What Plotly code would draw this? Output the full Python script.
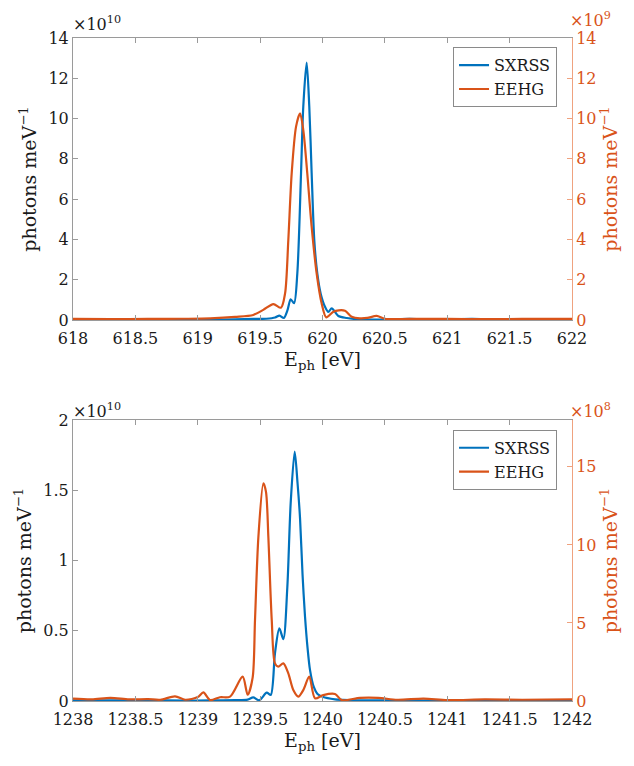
import plotly.graph_objects as go

# ---------------- data ----------------
# Top panel (around 620 eV); SXRSS in units of 1e10, EEHG in units of 1e9
top_sxrss_E = [618.0, 618.3, 618.6, 618.9, 619.1, 619.3, 619.45, 619.55, 619.62, 619.655,
               619.69, 619.72, 619.745, 619.772, 619.798, 619.828, 619.846, 619.873, 619.894,
               619.913, 619.934, 619.958, 619.985, 620.02, 620.047, 620.074, 620.127, 620.194,
               620.3, 620.5, 620.7, 620.8, 621.0, 621.2, 621.4, 621.6, 621.8, 622.0]
top_sxrss_v = [0.01, 0.02, 0.01, 0.03, 0.02, 0.03, 0.05, 0.06, 0.12, 0.22,
               0.1, 0.5, 1.03, 0.83, 2.3, 7.3, 10.6, 12.78, 10.6,
               7.3, 3.97, 2.32, 1.32, 0.66, 0.4, 0.58, 0.2, 0.1,
               0.03, 0.02, 0.06, 0.02, 0.03, 0.05, 0.02, 0.03, 0.02, 0.02]

top_eehg_E = [618.0, 618.3, 618.6, 618.9, 619.1, 619.3, 619.445, 619.525, 619.606, 619.667,
              619.7, 619.726, 619.753, 619.788, 619.82, 619.846, 619.878, 619.913, 619.953,
              619.993, 620.03, 620.087, 620.13, 620.18, 620.234, 620.3, 620.36, 620.434,
              620.5, 620.7, 621.0, 621.3, 621.6, 622.0]
top_eehg_v = [0.05, 0.04, 0.05, 0.06, 0.08, 0.15, 0.25, 0.5, 0.79, 0.61,
              1.32, 3.97, 7.28, 9.6, 10.26, 9.43, 7.28, 4.63, 2.32,
              0.83, 0.13, 0.41, 0.48, 0.46, 0.16, 0.08, 0.1, 0.2,
              0.06, 0.05, 0.05, 0.04, 0.05, 0.05]

# Bottom panel (around 1240 eV); SXRSS in units of 1e10, EEHG in units of 1e8
bot_sxrss_E = [1238.0, 1238.3, 1238.6, 1238.9, 1239.1, 1239.3, 1239.4, 1239.445, 1239.493,
               1239.553, 1239.585, 1239.619, 1239.654, 1239.686, 1239.718, 1239.745, 1239.777,
               1239.8, 1239.82, 1239.84, 1239.86, 1239.88, 1239.9, 1239.93, 1239.96, 1240.0,
               1240.1, 1240.3, 1240.6, 1241.0, 1241.5, 1241.7, 1242.0]
bot_sxrss_v = [0.005, 0.004, 0.005, 0.003, 0.004, 0.006, 0.01, 0.026, 0.005,
               0.059, 0.043, 0.34, 0.517, 0.44, 0.81, 1.41, 1.775,
               1.55, 1.3, 0.9, 0.6, 0.38, 0.22, 0.1, 0.05, 0.03,
               0.012, 0.005, 0.004, 0.003, 0.006, 0.004, 0.003]

bot_eehg_E = [1238.0, 1238.15, 1238.3, 1238.45, 1238.6, 1238.7, 1238.818, 1238.9, 1239.0,
              1239.045, 1239.098, 1239.178, 1239.259, 1239.36, 1239.40, 1239.44, 1239.459,
              1239.486, 1239.526, 1239.547, 1239.566, 1239.593, 1239.619, 1239.646, 1239.686,
              1239.726, 1239.766, 1239.806, 1239.846, 1239.894, 1239.94, 1240.006, 1240.1,
              1240.154, 1240.3, 1240.447, 1240.6, 1240.81, 1241.0, 1241.3, 1241.6, 1242.0]
bot_eehg_v = [0.15, 0.1, 0.2, 0.1, 0.12, 0.08, 0.3, 0.08, 0.25,
              0.55, 0.06, 0.24, 0.28, 1.56, 0.4, 1.5, 5.2,
              10.5, 13.95, 13.4, 10.5, 5.2, 2.41, 2.2, 2.41,
              1.77, 0.7, 0.28, 0.7, 1.56, 0.17, 0.38, 0.45,
              0.06, 0.2, 0.2, 0.08, 0.15, 0.06, 0.1, 0.08, 0.1]

top_x_ticks = [618, 618.5, 619, 619.5, 620, 620.5, 621, 621.5, 622]
bot_x_ticks = [1238, 1238.5, 1239, 1239.5, 1240, 1240.5, 1241, 1241.5, 1242]
top_left_ticks = [0, 2, 4, 6, 8, 10, 12, 14]
top_right_ticks = [0, 2, 4, 6, 8, 10, 12, 14]
bot_left_ticks = [0, 0.5, 1, 1.5, 2]
bot_right_ticks = [0, 5, 10, 15]
series_names = ["SXRSS", "EEHG"]

# ---------------- style ----------------
BLUE = "#0072BD"
ORANGE = "#D95319"
AXC = "#9a9a9a"
ORC = "#EFA27F"
FONT = "DejaVu Serif"
TICKF = dict(family=FONT, size=16, color="#1a1a1a")

fig = go.Figure()
fig.add_trace(go.Scatter(x=top_sxrss_E, y=top_sxrss_v, name=series_names[0], mode="lines",
                         line=dict(color=BLUE, width=2.2, shape="spline", smoothing=0.8),
                         xaxis="x", yaxis="y", legend="legend"))
fig.add_trace(go.Scatter(x=top_eehg_E, y=top_eehg_v, name=series_names[1], mode="lines",
                         line=dict(color=ORANGE, width=2.2, shape="spline", smoothing=0.8),
                         xaxis="x", yaxis="y2", legend="legend"))
fig.add_trace(go.Scatter(x=bot_sxrss_E, y=bot_sxrss_v, name=series_names[0], mode="lines",
                         line=dict(color=BLUE, width=2.2, shape="spline", smoothing=0.8),
                         xaxis="x2", yaxis="y3", legend="legend2"))
fig.add_trace(go.Scatter(x=bot_eehg_E, y=bot_eehg_v, name=series_names[1], mode="lines",
                         line=dict(color=ORANGE, width=2.2, shape="spline", smoothing=0.8),
                         xaxis="x2", yaxis="y4", legend="legend2"))

# figure is drawn 8px in from the page corner (default body margin)
top_dom = [0.5747, 1.0]
bot_dom = [0.0, 0.4238]

def xax(ticks, anchor):
    return dict(range=[ticks[0], ticks[-1]], tickvals=ticks, ticktext=[f"{t:g}" for t in ticks],
                showline=True, linecolor=AXC, linewidth=1, mirror="ticks",
                ticks="inside", ticklen=5, tickcolor=AXC, showgrid=False, zeroline=False,
                tickfont=TICKF, anchor=anchor, ticklabelstandoff=4, automargin=False,
                title=dict(text="E<sub>ph</sub> [eV]", font=dict(family=FONT, size=19, color="#1a1a1a"),
                           standoff=2))

def yleft(ticks, dom, anchor):
    return dict(range=[ticks[0], ticks[-1]], tickvals=ticks, ticktext=[f"{t:g}" for t in ticks],
                domain=dom, anchor=anchor, showline=True, linecolor=AXC, linewidth=1,
                ticks="inside", ticklen=5, tickcolor=AXC, showgrid=False, zeroline=False,
                tickfont=TICKF, automargin=False,
                title=dict(text="photons meV<sup>\u22121</sup>", font=dict(family=FONT, size=19, color="#1a1a1a"),
                           standoff=6))

def yright(ticks, rmax, overlay, anchor):
    return dict(range=[0, rmax], tickvals=ticks, ticktext=[f"{t:g}" for t in ticks],
                overlaying=overlay, side="right", anchor=anchor, showline=True, linecolor=ORC, linewidth=1,
                ticks="inside", ticklen=5, tickcolor=ORC, showgrid=False, zeroline=False,
                tickfont=dict(family=FONT, size=16, color=ORANGE), automargin=False,
                title=dict(text="photons meV<sup>\u22121</sup>", font=dict(family=FONT, size=19, color=ORANGE),
                           standoff=4))

legend_style = dict(bgcolor="white", bordercolor="#8a8a8a", borderwidth=1,
                    font=dict(family=FONT, size=16, color="#1a1a1a"),
                    xanchor="right", yanchor="top", tracegroupgap=0, itemwidth=30)

fig.update_layout(
    width=634, height=766,
    margin=dict(l=65, r=70, t=30, b=73, autoexpand=False),
    paper_bgcolor="white", plot_bgcolor="white",
    showlegend=True,
    xaxis=xax(top_x_ticks, "y"),
    xaxis2=xax(bot_x_ticks, "y3"),
    yaxis=yleft(top_left_ticks, top_dom, "x"),
    yaxis2=yright(top_right_ticks, 14, "y", "x"),
    yaxis3=yleft(bot_left_ticks, bot_dom, "x2"),
    yaxis4=yright(bot_right_ticks, 18, "y3", "x2"),
    legend=dict(x=0.97, y=0.986, **legend_style),
    legend2=dict(x=0.97, y=0.409, **legend_style),
)

fig.update_layout(annotations=[
    dict(text="\u00d710<sup>10</sup>", xref="paper", yref="paper", x=0.0, y=1.0, xanchor="left",
         yanchor="bottom", xshift=-2, yshift=2, showarrow=False, font=dict(family=FONT, size=16, color="#1a1a1a")),
    dict(text="\u00d710<sup>9</sup>", xref="paper", yref="paper", x=1.0, y=1.0, xanchor="left",
         yanchor="bottom", xshift=-4, yshift=6, showarrow=False, font=dict(family=FONT, size=16, color=ORANGE)),
    dict(text="\u00d710<sup>10</sup>", xref="paper", yref="paper", x=0.0, y=0.4238, xanchor="left",
         yanchor="bottom", xshift=-2, yshift=-3, showarrow=False, font=dict(family=FONT, size=16, color="#1a1a1a")),
    dict(text="\u00d710<sup>8</sup>", xref="paper", yref="paper", x=1.0, y=0.4238, xanchor="left",
         yanchor="bottom", xshift=-4, yshift=-3, showarrow=False, font=dict(family=FONT, size=16, color=ORANGE)),
])

fig.write_html("out.html")
